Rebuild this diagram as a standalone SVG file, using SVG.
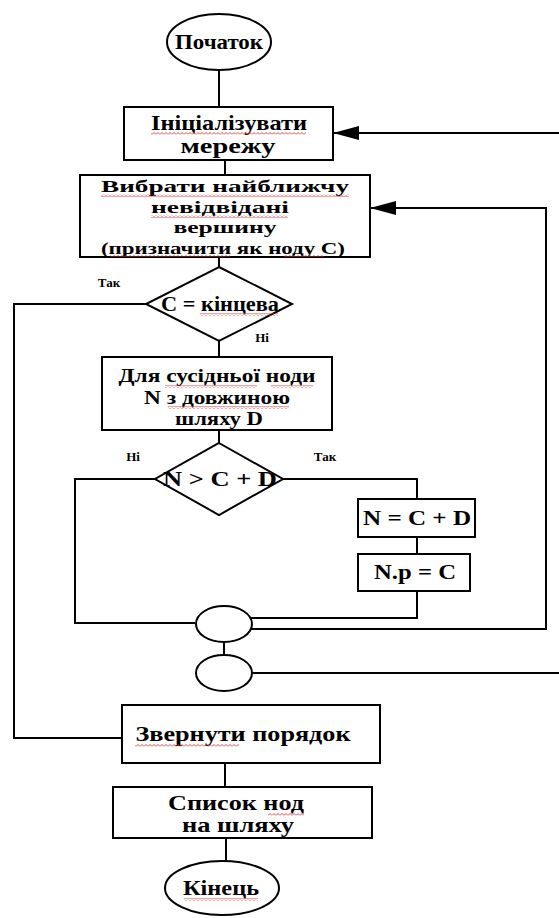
<svg xmlns="http://www.w3.org/2000/svg" width="559" height="918" viewBox="0 0 559 918">
  <style>
    .shape { fill: #fff; stroke: #000; stroke-width: 2; }
    .line { fill: none; stroke: #000; stroke-width: 2; }
    .t { font-family: "Liberation Serif", "Times New Roman", serif; font-weight: bold; font-size: 21px; text-anchor: middle; fill: #000; }
    .t.tight { font-size: 17.5px; }
    .t.mid { font-size: 18.5px; }
    .lbl { font-family: "Liberation Serif", "Times New Roman", serif; font-weight: bold; font-size: 13px; text-anchor: middle; fill: #000; }
    .sq { fill: url(#squiggle); }
  </style>
  <defs>
    <marker id="arrow" viewBox="0 0 26 14" refX="26" refY="7" markerWidth="26" markerHeight="14" markerUnits="userSpaceOnUse" orient="auto">
      <path d="M0,0 L26,7 L0,14 Z" fill="#000"/>
    </marker>
    <!-- red wavy spell-check underline -->
    <pattern id="squiggle" patternUnits="userSpaceOnUse" width="4" height="3">
      <path d="M0,2.5 L2,0.5 L4,2.5" fill="none" stroke="#e03030" stroke-width="0.9"/>
    </pattern>
  </defs>

  <rect width="559" height="918" fill="#fff"/>

  <g id="connectors">
    <path class="line" d="M219,70 V107"/>
    <path class="line" d="M225,160 V175"/>
    <path class="line" d="M219,257 V267"/>
    <path class="line" d="M219,341 V357"/>
    <path class="line" d="M219,430 V443"/>
    <!-- end node reached: go to reverse step -->
    <path class="line" d="M146,304 H14 V738 H122"/>
    <!-- N > C + D: no -->
    <path class="line" d="M155,479 H75 V623 H195"/>
    <!-- N > C + D: yes -->
    <path class="line" d="M283,479 H417 V499"/>
    <path class="line" d="M417,537 V554"/>
    <path class="line" d="M417,591 V618 H251"/>
    <!-- loop back to choose next vertex -->
    <path class="line" d="M251,629 H546 V208 H370" marker-end="url(#arrow)"/>
    <path class="line" d="M224,642 V655"/>
    <!-- loop back to initialise -->
    <path class="line" d="M252,673 H559"/>
    <path class="line" d="M559,133 H333" marker-end="url(#arrow)"/>
    <path class="line" d="M225,763 V787"/>
    <path class="line" d="M226,838 V862"/>
  </g>

  <g id="start">
    <ellipse class="shape" cx="219" cy="42" rx="52" ry="28"/>
    <text class="t" x="219" y="49" textLength="88" lengthAdjust="spacingAndGlyphs">Початок</text>
  </g>

  <g id="init">
    <rect class="shape" x="124" y="107" width="209" height="53"/>
    <text class="t" x="229" y="130" textLength="156" lengthAdjust="spacingAndGlyphs">Ініціалізувати</text>
    <text class="t" x="228" y="153" textLength="95" lengthAdjust="spacingAndGlyphs">мережу</text>
    <rect class="sq" x="151" y="132" width="155" height="3"/>
  </g>

  <g id="select">
    <rect class="shape" x="80" y="175" width="290" height="82"/>
    <text class="t tight" x="225" y="192" textLength="248" lengthAdjust="spacingAndGlyphs">Вибрати найближчу</text>
    <text class="t tight" x="220" y="212.5" textLength="138" lengthAdjust="spacingAndGlyphs">невідвідані</text>
    <text class="t tight" x="225" y="233" textLength="103" lengthAdjust="spacingAndGlyphs">вершину</text>
    <text class="t tight" x="223" y="253.5" textLength="244" lengthAdjust="spacingAndGlyphs">(призначити як ноду С)</text>
    <rect class="sq" x="101" y="194" width="248" height="3"/>
    <rect class="sq" x="151" y="215" width="137" height="3"/>
    <rect class="sq" x="110" y="255" width="120" height="2"/>
    <rect class="sq" x="284" y="255" width="40" height="2"/>
  </g>

  <g id="is-end">
    <polygon class="shape" points="219,267 292,304 219,341 146,304"/>
    <text class="t" x="220" y="311" textLength="118" lengthAdjust="spacingAndGlyphs">C = кінцева</text>
    <rect class="sq" x="200" y="313" width="78" height="3"/>
    <text class="lbl" x="109" y="287">Так</text>
    <text class="lbl" x="262" y="342">Ні</text>
  </g>

  <g id="neighbour">
    <rect class="shape" x="102" y="357" width="230" height="73"/>
    <text class="t mid" x="217" y="382" textLength="197" lengthAdjust="spacingAndGlyphs">Для сусідньої ноди</text>
    <text class="t mid" x="217" y="403.5" textLength="146" lengthAdjust="spacingAndGlyphs">N з довжиною</text>
    <text class="t mid" x="219" y="425" textLength="88" lengthAdjust="spacingAndGlyphs">шляху D</text>
    <rect class="sq" x="165" y="385" width="92" height="3"/>
    <rect class="sq" x="271" y="385" width="42" height="3"/>
    <rect class="sq" x="168" y="406" width="121" height="3"/>
  </g>

  <g id="compare">
    <polygon class="shape" points="219,443 283,479 219,515 155,479"/>
    <text class="t" x="220" y="486" textLength="114" lengthAdjust="spacingAndGlyphs">N &gt; C + D</text>
    <text class="lbl" x="133" y="461">Ні</text>
    <text class="lbl" x="325" y="461">Так</text>
  </g>

  <g id="update-dist">
    <rect class="shape" x="358" y="499" width="117" height="38"/>
    <text class="t" x="417" y="525" textLength="108" lengthAdjust="spacingAndGlyphs">N = C + D</text>
  </g>

  <g id="update-prev">
    <rect class="shape" x="358" y="554" width="112" height="37"/>
    <text class="t" x="415" y="579" textLength="82" lengthAdjust="spacingAndGlyphs">N.p = C</text>
  </g>

  <g id="join-inner">
    <ellipse class="shape" cx="224" cy="624" rx="28" ry="18"/>
  </g>

  <g id="join-outer">
    <ellipse class="shape" cx="224" cy="673" rx="28" ry="18"/>
  </g>

  <g id="reverse">
    <rect class="shape" x="122" y="705" width="258" height="58"/>
    <text class="t" x="243" y="741" textLength="215" lengthAdjust="spacingAndGlyphs">Звернути  порядок</text>
    <rect class="sq" x="135" y="744" width="104" height="3"/>
  </g>

  <g id="path-list">
    <rect class="shape" x="113" y="787" width="259" height="51"/>
    <text class="t" x="236" y="810" textLength="136" lengthAdjust="spacingAndGlyphs">Список нод</text>
    <text class="t" x="238" y="832" textLength="112" lengthAdjust="spacingAndGlyphs">на шляху</text>
    <rect class="sq" x="268" y="813" width="36" height="3"/>
  </g>

  <g id="end">
    <ellipse class="shape" cx="222" cy="888" rx="57" ry="27"/>
    <text class="t" x="221" y="895" textLength="76" lengthAdjust="spacingAndGlyphs">Кінець</text>
    <rect class="sq" x="184" y="898" width="74" height="3"/>
  </g>
</svg>
